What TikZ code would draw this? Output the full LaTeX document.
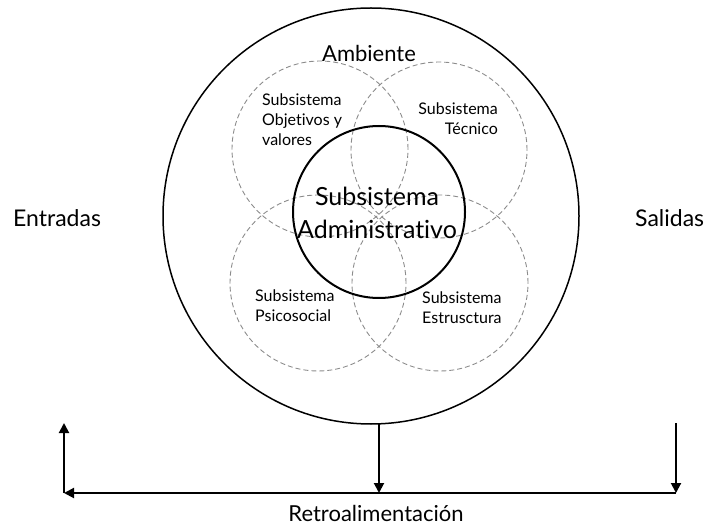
\documentclass[tikz,border=0pt]{standalone}
\usepackage{fontspec}
\setmainfont{Lato}[Ligatures={NoCommon,NoRequired,NoContextual}]
\usetikzlibrary{arrows.meta}
\begin{document}
\begin{tikzpicture}[x=1pt,y=-1pt,
  ring/.style={circle, draw, inner sep=0pt, outer sep=0pt},
  sub/.style={circle, draw=black!45, dash pattern=on 5pt off 3pt, line width=0.9pt,
              inner sep=0pt, minimum size=176pt},
  lbl/.style={font=\fontsize{16}{20}\selectfont, inner sep=0pt},
  big/.style={font=\fontsize{23}{28}\selectfont, inner sep=0pt},
  flow/.style={line width=2pt, -{Triangle[length=10pt,width=10pt]}}
]
\useasboundingbox (0,0) rectangle (709,526);

% environment and the four subsystems
\node[ring, line width=1.5pt, minimum size=416pt] (env) at (371,216) {};
\node[sub] (obj) at (320,149) {};
\node[sub] (tec) at (439,150) {};
\node[sub] (psi) at (318,283) {};
\node[sub] (est) at (440,283) {};
\node[ring, line width=2pt, minimum size=172pt] (adm) at (379,212) {};

% labels
\node[big, font=\fontsize{22}{26}\selectfont] (amb) at (369,53) {Ambiente};
\node[lbl, align=left, anchor=west] (tobj) at (262,120) {Subsistema\\Objetivos y\\valores};
\node[lbl, align=right, anchor=east] (ttec) at (498,119) {Subsistema\\Técnico};
\node[lbl, align=left, anchor=west] (tpsi) at (255,306) {Subsistema\\Psicosocial};
\node[lbl, align=left, anchor=west] (test) at (422,308) {Subsistema\\Estrusctura};
\node[big, align=center, font=\fontsize{25}{33}\selectfont] (tadm) at (377,213) {Subsistema\\Administrativo};
\node[big, anchor=west] (in) at (13,218) {Entradas};
\node[big, anchor=west] (out) at (635,218) {Salidas};

% feedback loop
\coordinate (fl) at (64,493);
\coordinate (fr) at (676,493);
\coordinate (lt) at (64,423);
\coordinate (rt) at (676,423);
\coordinate (fm) at (379,493);
\draw[flow] (fm |- env.south) -- (fm);
\draw[flow] (rt) -- (fr);
\draw[flow] (fr) -- (fl);
\draw[flow] (fl) -- (lt);
\node[big, font=\fontsize{22}{26}\selectfont] (fb) at (376,513) {Retroalimentación};
\end{tikzpicture}
\end{document}
